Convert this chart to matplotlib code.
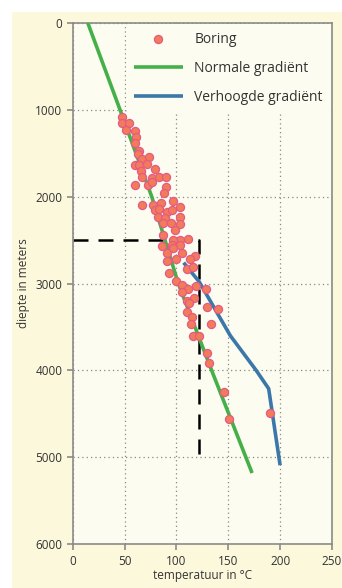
import numpy as np
import matplotlib.pyplot as plt
from matplotlib.patches import Rectangle

plt.rcParams['font.family'] = ['Open Sans', 'DejaVu Sans']

# meetpunten boring: temperatuur (°C) en diepte (m)
boring_temp = [47.3, 47.8, 54.0, 51.1, 60.4, 61.3, 60.4, 63.9, 62.7, 67.1,
               73.9, 60.1, 64.2, 71.6, 65.6, 79.4, 66.5, 76.8, 83.5, 90.3,
               59.8, 72.3, 76.2, 90.0, 88.0, 66.5, 77.1, 84.9, 97.0, 79.4,
               83.5, 90.6, 95.5, 103.5, 82.5, 89.0, 103.5, 87.4, 94.8, 103.5,
               98.6, 87.4, 103.5, 111.5, 96.4, 85.8, 95.5, 103.5, 97.0, 105.1,
               90.6, 117.9, 113.1, 90.6, 99.6, 110.5, 115.7, 92.6, 99.6, 105.7,
               111.5, 118.6, 128.5, 105.7, 117.3, 109.9, 140.4, 129.2, 112.4, 109.9,
               114.8, 113.8, 133.1, 116.3, 122.1, 129.2, 131.7, 145.9, 150.4, 190.3]
boring_diepte = [1082, 1158, 1158, 1235, 1246, 1315, 1388, 1476, 1514, 1568,
                 1542, 1637, 1637, 1626, 1707, 1683, 1772, 1791, 1772, 1772,
                 1868, 1868, 1830, 1887, 1956, 2098, 2098, 2078, 2048, 2155,
                 2147, 2174, 2155, 2116, 2239, 2251, 2232, 2301, 2308, 2320,
                 2385, 2443, 2500, 2492, 2500, 2570, 2558, 2558, 2596, 2654,
                 2646, 2685, 2722, 2739, 2722, 2834, 2808, 2884, 2969, 3018,
                 3068, 3030, 3068, 3095, 3171, 3199, 3294, 3268, 3229, 3326,
                 3383, 3470, 3470, 3605, 3605, 3797, 3914, 4246, 4560, 4495]

# normale gradiënt
normaal_temp = [14.5, 45.6, 76.2, 101.8, 134.0, 173.0]
normaal_diepte = [0, 1000, 2000, 3000, 4000, 5180]

# verhoogde gradiënt
verhoogd_temp = [107, 122, 152, 177, 189, 200]
verhoogd_diepte = [2760, 2980, 3600, 4000, 4210, 5090]

# hulplijn
hulp_temp = [0, 122, 122]
hulp_diepte = [2500, 2500, 5050]

fig = plt.figure(figsize=(3.42, 5.88), dpi=100, facecolor='white')
# crème achtergrond van de pagina, met witte rand links en boven
fig.add_artist(Rectangle((12 / 342, 0), 1, 1 - 12 / 588, transform=fig.transFigure,
                         facecolor='#fcf8dc', edgecolor='none', zorder=-10))
ax = fig.add_axes([0.2126, 0.0743, 0.758, 0.887], facecolor='#fdfcf0')

ax.plot(hulp_temp, hulp_diepte, color='black', lw=1.8, dashes=(6, 4), zorder=2)
ax.plot(normaal_temp, normaal_diepte, color='#45b04a', lw=2.6,
        solid_capstyle='butt', label='Normale gradiënt', zorder=3)
ax.plot(verhoogd_temp, verhoogd_diepte, color='#3b77a9', lw=2.6,
        solid_capstyle='butt', label='Verhoogde gradiënt', zorder=3)
ax.scatter(boring_temp, boring_diepte, s=34, color='#f27c58', edgecolor='#e45a86',
           linewidth=0.9, label='Boring', zorder=4)

ax.set_xlim(0, 250)
ax.set_ylim(6000, 0)
ax.set_xticks(np.arange(0, 251, 50))
ax.set_yticks(np.arange(0, 6001, 1000))
ax.grid(True, linestyle=(0, (1, 2.5)), color='#888888', lw=0.9)
ax.set_axisbelow(True)

for s in ax.spines.values():
    s.set_color('#8a8a8a')
    s.set_linewidth(1.2)
ax.tick_params(colors='#8a8a8a', labelcolor='#333333', labelsize=8.5,
               length=4, width=1.2)

ax.set_xlabel('temperatuur in °C', fontsize=8.5, color='#333333', labelpad=1)
ax.set_ylabel('diepte in meters', fontsize=8.5, color='#333333', labelpad=4)

handles, labels = ax.get_legend_handles_labels()
order = [2, 0, 1]
leg = ax.legend([handles[i] for i in order], [labels[i] for i in order],
                loc='upper right', fontsize=10, frameon=True, framealpha=1,
                facecolor='#fdfcf0', edgecolor='none', handlelength=3.5,
                handletextpad=0.85, borderaxespad=0.1, borderpad=0.55,
                labelspacing=1.0, scatterpoints=1)
for t in leg.get_texts():
    t.set_color('#333333')

plt.savefig('out.png', dpi=100, facecolor=fig.get_facecolor())
